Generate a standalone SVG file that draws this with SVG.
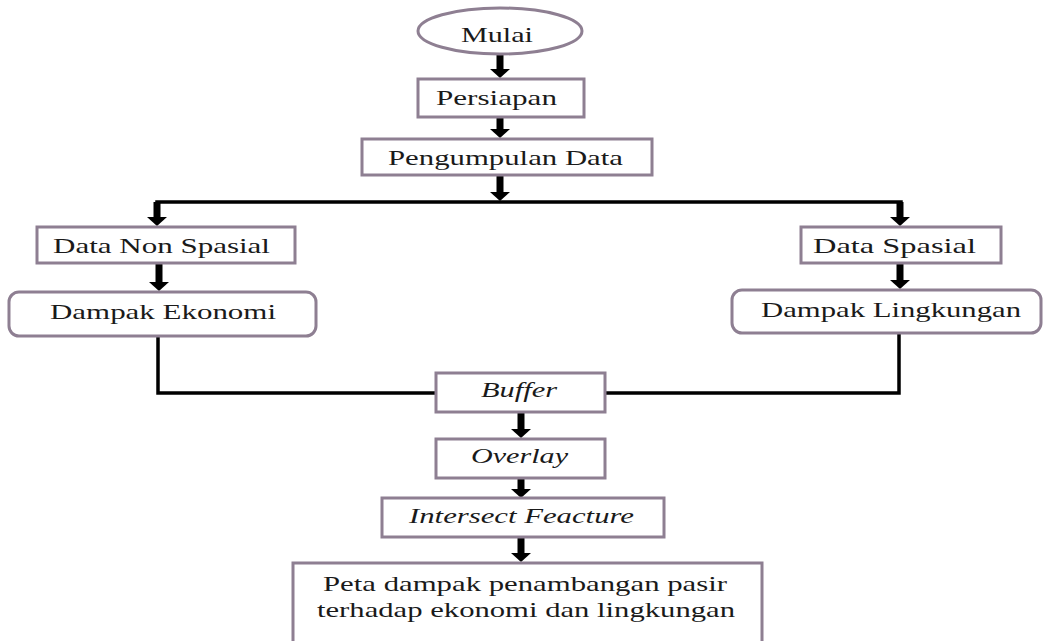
<svg xmlns="http://www.w3.org/2000/svg" width="1043" height="641" viewBox="0 0 1043 641">
<defs>
<style>
.box{fill:#fff;stroke:#8e7f92;stroke-width:3}
.t{font-family:"Liberation Serif","Times New Roman",serif;font-size:21px;fill:#1a1a1a}
.i{font-style:italic}
.arr{stroke:#000;stroke-width:7;fill:none}
.ln{stroke:#000;stroke-width:3.5;fill:none}
</style>
<marker id="ah" markerUnits="userSpaceOnUse" markerWidth="12" markerHeight="22" viewBox="0 -11 10 22" refX="1" refY="0" orient="auto">
<path d="M0,-10 L9,0 L0,10 z" fill="#000"/>
</marker>
</defs>
<rect width="1043" height="641" fill="#fff"/>
<g id="connectors">
<line class="arr" x1="500" y1="54" x2="500" y2="70" marker-end="url(#ah)"/>
<line class="arr" x1="500" y1="117" x2="500" y2="130" marker-end="url(#ah)"/>
<line class="arr" x1="500" y1="175" x2="500" y2="193" marker-end="url(#ah)"/>
<polyline class="ln" points="157,210 157,202 901,202 901,210"/>
<line class="arr" x1="157" y1="202" x2="157" y2="218" marker-end="url(#ah)"/>
<line class="arr" x1="900" y1="202" x2="900" y2="218" marker-end="url(#ah)"/>
<line class="arr" x1="159" y1="263" x2="159" y2="283" marker-end="url(#ah)"/>
<line class="arr" x1="900" y1="263" x2="900" y2="281" marker-end="url(#ah)"/>
<polyline class="ln" points="158,336 158,393 436,393"/>
<polyline class="ln" points="899,333 899,393 605,393"/>
<line class="arr" x1="521" y1="412" x2="521" y2="430" marker-end="url(#ah)"/>
<line class="arr" x1="521" y1="478" x2="521" y2="490" marker-end="url(#ah)"/>
<line class="arr" x1="521" y1="537" x2="521" y2="554" marker-end="url(#ah)"/>
</g>
<g id="mulai"><ellipse class="box" cx="500" cy="31" rx="82" ry="23"/><text class="t" x="461" y="42" textLength="72" lengthAdjust="spacingAndGlyphs">Mulai</text></g>
<g id="persiapan"><rect class="box" x="418" y="79" width="166" height="38"/><text class="t" x="436" y="105" textLength="121" lengthAdjust="spacingAndGlyphs">Persiapan</text></g>
<g id="pengumpulan"><rect class="box" x="362" y="139" width="290" height="36"/><text class="t" x="388" y="165" textLength="235" lengthAdjust="spacingAndGlyphs">Pengumpulan Data</text></g>
<g id="nonspasial"><rect class="box" x="37" y="227" width="258" height="36"/><text class="t" x="53" y="253" textLength="217" lengthAdjust="spacingAndGlyphs">Data Non Spasial</text></g>
<g id="spasial"><rect class="box" x="801" y="227" width="200" height="36"/><text class="t" x="813" y="253" textLength="163" lengthAdjust="spacingAndGlyphs">Data Spasial</text></g>
<g id="ekonomi"><rect class="box" x="9" y="292" width="307" height="44" rx="10"/><text class="t" x="50" y="319" textLength="226" lengthAdjust="spacingAndGlyphs">Dampak Ekonomi</text></g>
<g id="lingkungan"><rect class="box" x="732" y="290" width="309" height="43" rx="10"/><text class="t" x="761" y="317" textLength="260" lengthAdjust="spacingAndGlyphs">Dampak Lingkungan</text></g>
<g id="buffer"><rect class="box" x="436" y="373" width="169" height="39"/><text class="t i" x="481" y="397" textLength="76" lengthAdjust="spacingAndGlyphs">Buffer</text></g>
<g id="overlay"><rect class="box" x="436" y="439" width="169" height="39"/><text class="t i" x="471" y="463" textLength="97" lengthAdjust="spacingAndGlyphs">Overlay</text></g>
<g id="intersect"><rect class="box" x="382" y="498" width="282" height="39"/><text class="t i" x="409" y="523" textLength="225" lengthAdjust="spacingAndGlyphs">Intersect Feacture</text></g>
<g id="peta"><rect class="box" x="293" y="563" width="469" height="90"/><text class="t" x="323" y="591" textLength="404" lengthAdjust="spacingAndGlyphs">Peta dampak penambangan pasir</text><text class="t" x="317" y="617" textLength="418" lengthAdjust="spacingAndGlyphs">terhadap ekonomi dan lingkungan</text></g>
</svg>
